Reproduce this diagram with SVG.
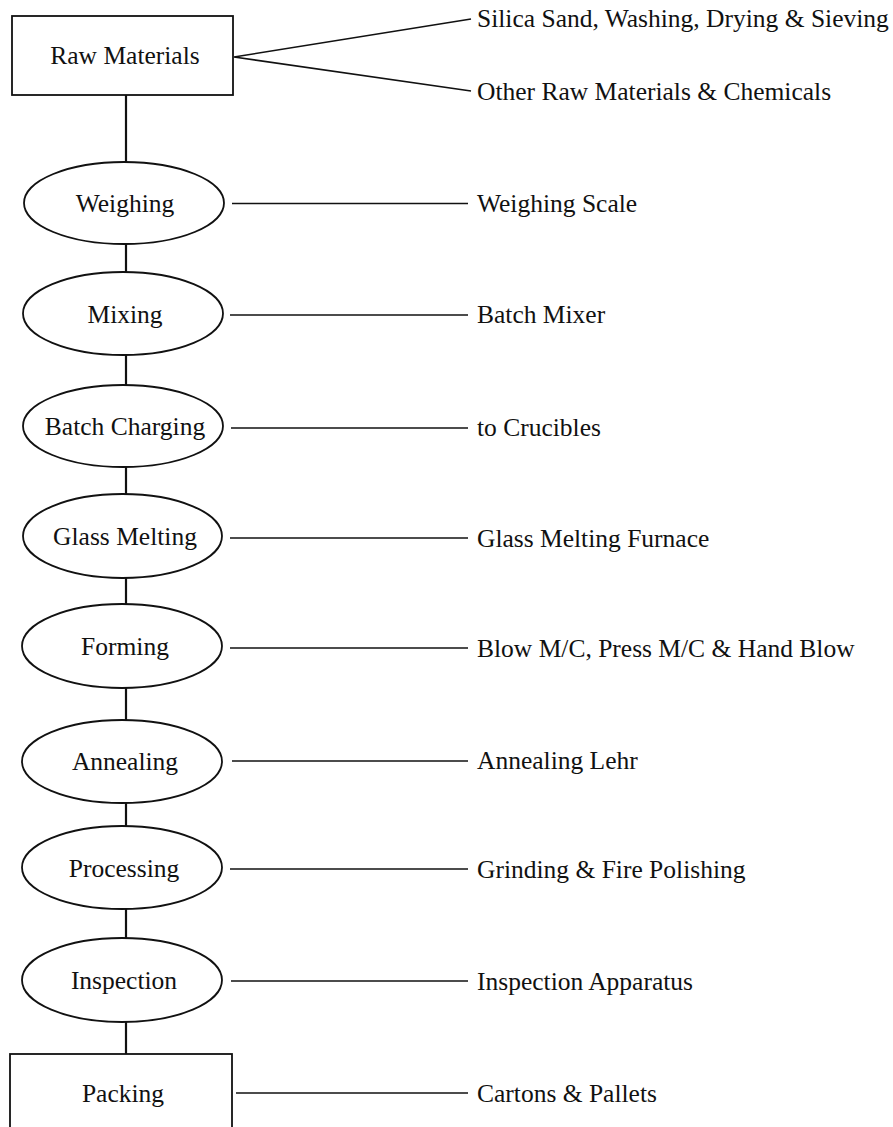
<svg xmlns="http://www.w3.org/2000/svg" width="893" height="1127" viewBox="0 0 893 1127">
<style>
text{font-family:"Liberation Serif","Times New Roman",serif;font-size:25.5px;fill:#111}
.n{text-anchor:middle}
.shape{fill:#fff;stroke:#111;stroke-width:1.8}
.c{stroke:#111;stroke-width:1.6;fill:none}
.v{stroke:#111;stroke-width:2.2;fill:none}
</style>
<rect width="893" height="1127" fill="#fff"/>
<g id="connectors">
<line class="v" x1="126" y1="95" x2="126" y2="162"/>
<line class="v" x1="126" y1="244" x2="126" y2="272"/>
<line class="v" x1="126" y1="355" x2="126" y2="385"/>
<line class="v" x1="126" y1="467" x2="126" y2="494"/>
<line class="v" x1="126" y1="578" x2="126" y2="604"/>
<line class="v" x1="126" y1="688" x2="126" y2="720"/>
<line class="v" x1="126" y1="803" x2="126" y2="826"/>
<line class="v" x1="126" y1="909" x2="126" y2="938"/>
<line class="v" x1="126" y1="1022" x2="126" y2="1054"/>
<polyline class="c" points="471,19 234,57 471,91"/>
<line class="c" x1="232" y1="203.5" x2="468" y2="203.5"/>
<line class="c" x1="230" y1="315" x2="468" y2="315"/>
<line class="c" x1="231" y1="428" x2="468" y2="428"/>
<line class="c" x1="230" y1="538" x2="468" y2="538"/>
<line class="c" x1="230" y1="648" x2="468" y2="648"/>
<line class="c" x1="232" y1="761" x2="468" y2="761"/>
<line class="c" x1="230" y1="869" x2="468" y2="869"/>
<line class="c" x1="231" y1="981" x2="468" y2="981"/>
<line class="c" x1="236" y1="1093" x2="468" y2="1093"/>
</g>
<g id="raw-materials">
<rect class="shape" x="12" y="16" width="221" height="79"/>
<text class="n" x="125" y="64">Raw Materials</text>
</g>
<g id="weighing">
<ellipse class="shape" cx="124" cy="203" rx="100" ry="41"/>
<text class="n" x="125" y="212">Weighing</text>
</g>
<g id="mixing">
<ellipse class="shape" cx="123" cy="313.5" rx="100" ry="41.5"/>
<text class="n" x="125" y="323">Mixing</text>
</g>
<g id="batch-charging">
<ellipse class="shape" cx="123" cy="426" rx="100" ry="41"/>
<text class="n" x="125" y="435">Batch Charging</text>
</g>
<g id="glass-melting">
<ellipse class="shape" cx="122.5" cy="536" rx="99.5" ry="42"/>
<text class="n" x="125" y="545">Glass Melting</text>
</g>
<g id="forming">
<ellipse class="shape" cx="122" cy="646" rx="100" ry="42"/>
<text class="n" x="125" y="655">Forming</text>
</g>
<g id="annealing">
<ellipse class="shape" cx="122" cy="761.5" rx="100" ry="41.5"/>
<text class="n" x="125" y="770">Annealing</text>
</g>
<g id="processing">
<ellipse class="shape" cx="122" cy="867.5" rx="100" ry="41.5"/>
<text class="n" x="124" y="877">Processing</text>
</g>
<g id="inspection">
<ellipse class="shape" cx="122" cy="980" rx="100" ry="42"/>
<text class="n" x="124" y="989">Inspection</text>
</g>
<g id="packing">
<rect class="shape" x="10" y="1054" width="222" height="90"/>
<text class="n" x="123" y="1102">Packing</text>
</g>
<g id="equipment-labels">
<text x="477" y="27">Silica Sand, Washing, Drying &amp; Sieving</text>
<text x="477" y="100">Other Raw Materials &amp; Chemicals</text>
<text x="477" y="212">Weighing Scale</text>
<text x="477" y="323">Batch Mixer</text>
<text x="477" y="436">to Crucibles</text>
<text x="477" y="547">Glass Melting Furnace</text>
<text x="477" y="657">Blow M/C, Press M/C &amp; Hand Blow</text>
<text x="477" y="769">Annealing Lehr</text>
<text x="477" y="878">Grinding &amp; Fire Polishing</text>
<text x="477" y="990">Inspection Apparatus</text>
<text x="477" y="1102">Cartons &amp; Pallets</text>
</g>
</svg>
